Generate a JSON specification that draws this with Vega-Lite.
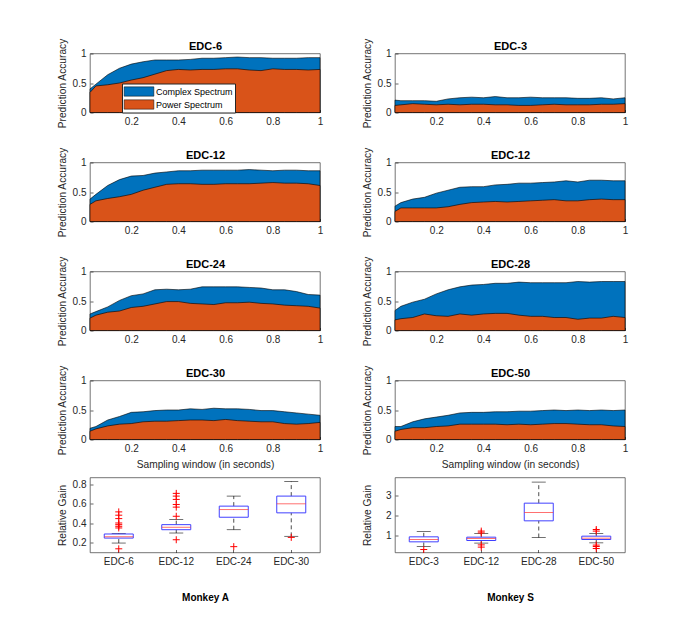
{
"$schema":"https://vega.github.io/schema/vega-lite/v6.json",
"padding":{"left":57,"top":37.5,"right":5,"bottom":5},
"background":"white",
"config":{
 "font":"Liberation Sans",
 "view":{"stroke":"#3a3a3a","strokeWidth":0.7},
 "axis":{"grid":false,"domain":false,"tickSize":-3,"tickColor":"#262626","tickWidth":0.7,"labelFontSize":10,"labelColor":"#262626","labelPadding":7,"titleFontSize":10.2,"titleFontWeight":"normal","titleColor":"#262626","labelFlush":false,"labelOverlap":false},
 "axisY":{"titlePadding":4.5,"minExtent":18,"labelOverlap":false},
 "axisX":{"titlePadding":6}
},
"datasets":{
"acc":[
{"p":"A6","x":0.025,"c":0.40,"w":0.34},{"p":"A6","x":0.05,"c":0.48,"w":0.45},{"p":"A6","x":0.1,"c":0.64,"w":0.47},{"p":"A6","x":0.15,"c":0.75,"w":0.50},{"p":"A6","x":0.2,"c":0.82,"w":0.55},{"p":"A6","x":0.25,"c":0.86,"w":0.59},{"p":"A6","x":0.3,"c":0.89,"w":0.65},{"p":"A6","x":0.35,"c":0.89,"w":0.71},{"p":"A6","x":0.4,"c":0.89,"w":0.73},{"p":"A6","x":0.45,"c":0.90,"w":0.72},{"p":"A6","x":0.5,"c":0.92,"w":0.73},{"p":"A6","x":0.55,"c":0.92,"w":0.73},{"p":"A6","x":0.6,"c":0.93,"w":0.74},{"p":"A6","x":0.65,"c":0.94,"w":0.74},{"p":"A6","x":0.7,"c":0.93,"w":0.72},{"p":"A6","x":0.75,"c":0.93,"w":0.71},{"p":"A6","x":0.8,"c":0.92,"w":0.74},{"p":"A6","x":0.85,"c":0.92,"w":0.73},{"p":"A6","x":0.9,"c":0.92,"w":0.73},{"p":"A6","x":0.95,"c":0.93,"w":0.72},{"p":"A6","x":1.0,"c":0.93,"w":0.73},
{"p":"A12","x":0.025,"c":0.38,"w":0.29},{"p":"A12","x":0.05,"c":0.46,"w":0.35},{"p":"A12","x":0.1,"c":0.61,"w":0.39},{"p":"A12","x":0.15,"c":0.71,"w":0.42},{"p":"A12","x":0.2,"c":0.77,"w":0.46},{"p":"A12","x":0.25,"c":0.78,"w":0.53},{"p":"A12","x":0.3,"c":0.82,"w":0.58},{"p":"A12","x":0.35,"c":0.84,"w":0.63},{"p":"A12","x":0.4,"c":0.86,"w":0.64},{"p":"A12","x":0.45,"c":0.86,"w":0.64},{"p":"A12","x":0.5,"c":0.87,"w":0.63},{"p":"A12","x":0.55,"c":0.87,"w":0.63},{"p":"A12","x":0.6,"c":0.87,"w":0.64},{"p":"A12","x":0.65,"c":0.87,"w":0.64},{"p":"A12","x":0.7,"c":0.88,"w":0.64},{"p":"A12","x":0.75,"c":0.87,"w":0.65},{"p":"A12","x":0.8,"c":0.86,"w":0.66},{"p":"A12","x":0.85,"c":0.87,"w":0.65},{"p":"A12","x":0.9,"c":0.87,"w":0.65},{"p":"A12","x":0.95,"c":0.86,"w":0.64},{"p":"A12","x":1.0,"c":0.86,"w":0.61},
{"p":"A24","x":0.025,"c":0.28,"w":0.21},{"p":"A24","x":0.05,"c":0.32,"w":0.26},{"p":"A24","x":0.1,"c":0.40,"w":0.31},{"p":"A24","x":0.15,"c":0.51,"w":0.33},{"p":"A24","x":0.2,"c":0.59,"w":0.39},{"p":"A24","x":0.25,"c":0.62,"w":0.41},{"p":"A24","x":0.3,"c":0.69,"w":0.45},{"p":"A24","x":0.35,"c":0.70,"w":0.49},{"p":"A24","x":0.4,"c":0.69,"w":0.49},{"p":"A24","x":0.45,"c":0.70,"w":0.46},{"p":"A24","x":0.5,"c":0.74,"w":0.45},{"p":"A24","x":0.55,"c":0.74,"w":0.44},{"p":"A24","x":0.6,"c":0.74,"w":0.47},{"p":"A24","x":0.65,"c":0.74,"w":0.47},{"p":"A24","x":0.7,"c":0.73,"w":0.48},{"p":"A24","x":0.75,"c":0.72,"w":0.46},{"p":"A24","x":0.8,"c":0.69,"w":0.45},{"p":"A24","x":0.85,"c":0.69,"w":0.43},{"p":"A24","x":0.9,"c":0.66,"w":0.42},{"p":"A24","x":0.95,"c":0.61,"w":0.41},{"p":"A24","x":1.0,"c":0.60,"w":0.38},
{"p":"A30","x":0.025,"c":0.19,"w":0.14},{"p":"A30","x":0.05,"c":0.22,"w":0.18},{"p":"A30","x":0.1,"c":0.33,"w":0.23},{"p":"A30","x":0.15,"c":0.39,"w":0.26},{"p":"A30","x":0.2,"c":0.46,"w":0.27},{"p":"A30","x":0.25,"c":0.47,"w":0.30},{"p":"A30","x":0.3,"c":0.49,"w":0.31},{"p":"A30","x":0.35,"c":0.50,"w":0.31},{"p":"A30","x":0.4,"c":0.50,"w":0.32},{"p":"A30","x":0.45,"c":0.52,"w":0.33},{"p":"A30","x":0.5,"c":0.51,"w":0.33},{"p":"A30","x":0.55,"c":0.53,"w":0.32},{"p":"A30","x":0.6,"c":0.52,"w":0.34},{"p":"A30","x":0.65,"c":0.52,"w":0.32},{"p":"A30","x":0.7,"c":0.51,"w":0.31},{"p":"A30","x":0.75,"c":0.49,"w":0.30},{"p":"A30","x":0.8,"c":0.49,"w":0.30},{"p":"A30","x":0.85,"c":0.47,"w":0.27},{"p":"A30","x":0.9,"c":0.45,"w":0.26},{"p":"A30","x":0.95,"c":0.43,"w":0.27},{"p":"A30","x":1.0,"c":0.41,"w":0.29},
{"p":"S3","x":0.025,"c":0.21,"w":0.12},{"p":"S3","x":0.05,"c":0.20,"w":0.13},{"p":"S3","x":0.1,"c":0.20,"w":0.15},{"p":"S3","x":0.15,"c":0.20,"w":0.14},{"p":"S3","x":0.2,"c":0.19,"w":0.13},{"p":"S3","x":0.25,"c":0.23,"w":0.14},{"p":"S3","x":0.3,"c":0.25,"w":0.13},{"p":"S3","x":0.35,"c":0.26,"w":0.14},{"p":"S3","x":0.4,"c":0.25,"w":0.14},{"p":"S3","x":0.45,"c":0.27,"w":0.13},{"p":"S3","x":0.5,"c":0.25,"w":0.13},{"p":"S3","x":0.55,"c":0.25,"w":0.12},{"p":"S3","x":0.6,"c":0.26,"w":0.12},{"p":"S3","x":0.65,"c":0.25,"w":0.13},{"p":"S3","x":0.7,"c":0.25,"w":0.14},{"p":"S3","x":0.75,"c":0.25,"w":0.13},{"p":"S3","x":0.8,"c":0.24,"w":0.13},{"p":"S3","x":0.85,"c":0.24,"w":0.13},{"p":"S3","x":0.9,"c":0.25,"w":0.14},{"p":"S3","x":0.95,"c":0.23,"w":0.14},{"p":"S3","x":1.0,"c":0.25,"w":0.15},
{"p":"S12","x":0.025,"c":0.26,"w":0.17},{"p":"S12","x":0.05,"c":0.32,"w":0.23},{"p":"S12","x":0.1,"c":0.38,"w":0.23},{"p":"S12","x":0.15,"c":0.41,"w":0.23},{"p":"S12","x":0.2,"c":0.48,"w":0.23},{"p":"S12","x":0.25,"c":0.53,"w":0.25},{"p":"S12","x":0.3,"c":0.58,"w":0.29},{"p":"S12","x":0.35,"c":0.59,"w":0.32},{"p":"S12","x":0.4,"c":0.59,"w":0.33},{"p":"S12","x":0.45,"c":0.62,"w":0.34},{"p":"S12","x":0.5,"c":0.63,"w":0.33},{"p":"S12","x":0.55,"c":0.65,"w":0.34},{"p":"S12","x":0.6,"c":0.65,"w":0.35},{"p":"S12","x":0.65,"c":0.66,"w":0.36},{"p":"S12","x":0.7,"c":0.67,"w":0.37},{"p":"S12","x":0.75,"c":0.69,"w":0.35},{"p":"S12","x":0.8,"c":0.67,"w":0.35},{"p":"S12","x":0.85,"c":0.70,"w":0.37},{"p":"S12","x":0.9,"c":0.70,"w":0.38},{"p":"S12","x":0.95,"c":0.69,"w":0.37},{"p":"S12","x":1.0,"c":0.69,"w":0.37},
{"p":"S28","x":0.025,"c":0.34,"w":0.18},{"p":"S28","x":0.05,"c":0.41,"w":0.20},{"p":"S28","x":0.1,"c":0.48,"w":0.22},{"p":"S28","x":0.15,"c":0.53,"w":0.28},{"p":"S28","x":0.2,"c":0.62,"w":0.25},{"p":"S28","x":0.25,"c":0.69,"w":0.24},{"p":"S28","x":0.3,"c":0.74,"w":0.28},{"p":"S28","x":0.35,"c":0.77,"w":0.26},{"p":"S28","x":0.4,"c":0.78,"w":0.28},{"p":"S28","x":0.45,"c":0.80,"w":0.29},{"p":"S28","x":0.5,"c":0.80,"w":0.29},{"p":"S28","x":0.55,"c":0.82,"w":0.26},{"p":"S28","x":0.6,"c":0.81,"w":0.24},{"p":"S28","x":0.65,"c":0.81,"w":0.24},{"p":"S28","x":0.7,"c":0.81,"w":0.22},{"p":"S28","x":0.75,"c":0.81,"w":0.22},{"p":"S28","x":0.8,"c":0.83,"w":0.19},{"p":"S28","x":0.85,"c":0.82,"w":0.21},{"p":"S28","x":0.9,"c":0.83,"w":0.21},{"p":"S28","x":0.95,"c":0.83,"w":0.24},{"p":"S28","x":1.0,"c":0.83,"w":0.22},
{"p":"S50","x":0.025,"c":0.22,"w":0.14},{"p":"S50","x":0.05,"c":0.22,"w":0.17},{"p":"S50","x":0.1,"c":0.30,"w":0.20},{"p":"S50","x":0.15,"c":0.35,"w":0.20},{"p":"S50","x":0.2,"c":0.38,"w":0.22},{"p":"S50","x":0.25,"c":0.41,"w":0.23},{"p":"S50","x":0.3,"c":0.45,"w":0.26},{"p":"S50","x":0.35,"c":0.46,"w":0.26},{"p":"S50","x":0.4,"c":0.46,"w":0.26},{"p":"S50","x":0.45,"c":0.47,"w":0.26},{"p":"S50","x":0.5,"c":0.47,"w":0.25},{"p":"S50","x":0.55,"c":0.48,"w":0.26},{"p":"S50","x":0.6,"c":0.48,"w":0.25},{"p":"S50","x":0.65,"c":0.49,"w":0.26},{"p":"S50","x":0.7,"c":0.50,"w":0.27},{"p":"S50","x":0.75,"c":0.49,"w":0.27},{"p":"S50","x":0.8,"c":0.50,"w":0.26},{"p":"S50","x":0.85,"c":0.49,"w":0.25},{"p":"S50","x":0.9,"c":0.50,"w":0.25},{"p":"S50","x":0.95,"c":0.49,"w":0.23},{"p":"S50","x":1.0,"c":0.50,"w":0.22}
],
"box":[
{"m":"A","cat":"EDC-6","lo":0.197,"q1":0.248,"med":0.262,"q3":0.29,"hi":0.295},
{"m":"A","cat":"EDC-12","lo":0.30,"q1":0.334,"med":0.359,"q3":0.386,"hi":0.438},
{"m":"A","cat":"EDC-24","lo":0.334,"q1":0.462,"med":0.541,"q3":0.576,"hi":0.679},
{"m":"A","cat":"EDC-30","lo":0.266,"q1":0.507,"med":0.60,"q3":0.679,"hi":0.828},
{"m":"S","cat":"EDC-3","lo":0.45,"q1":0.683,"med":0.80,"q3":0.933,"hi":1.2},
{"m":"S","cat":"EDC-12","lo":0.62,"q1":0.75,"med":0.85,"q3":0.917,"hi":1.1},
{"m":"S","cat":"EDC-28","lo":0.9,"q1":1.733,"med":2.15,"q3":2.617,"hi":3.67},
{"m":"S","cat":"EDC-50","lo":0.633,"q1":0.8,"med":0.867,"q3":0.967,"hi":1.1}
],
"out":[
{"m":"A","cat":"EDC-6","v":0.517},{"m":"A","cat":"EDC-6","v":0.483},{"m":"A","cat":"EDC-6","v":0.448},{"m":"A","cat":"EDC-6","v":0.403},{"m":"A","cat":"EDC-6","v":0.386},{"m":"A","cat":"EDC-6","v":0.369},{"m":"A","cat":"EDC-6","v":0.352},{"m":"A","cat":"EDC-6","v":0.138},
{"m":"A","cat":"EDC-12","v":0.707},{"m":"A","cat":"EDC-12","v":0.679},{"m":"A","cat":"EDC-12","v":0.645},{"m":"A","cat":"EDC-12","v":0.593},{"m":"A","cat":"EDC-12","v":0.566},{"m":"A","cat":"EDC-12","v":0.472},{"m":"A","cat":"EDC-12","v":0.231},
{"m":"A","cat":"EDC-24","v":0.16},
{"m":"A","cat":"EDC-30","v":0.255},
{"m":"S","cat":"EDC-3","v":0.3},
{"m":"S","cat":"EDC-12","v":1.22},{"m":"S","cat":"EDC-12","v":1.13},{"m":"S","cat":"EDC-12","v":0.53},{"m":"S","cat":"EDC-12","v":0.42},
{"m":"S","cat":"EDC-50","v":1.3},{"m":"S","cat":"EDC-50","v":1.22},{"m":"S","cat":"EDC-50","v":0.52},{"m":"S","cat":"EDC-50","v":0.45},{"m":"S","cat":"EDC-50","v":0.35}
]
},
"hconcat":[
{"vconcat":[
 {"vconcat":[
  {"width":230,"height":59,"data":{"name":"acc"},"transform":[{"filter":"datum.p==='A6'"}],"resolve":{"axis":{"x":"independent"}},
   "layer":[
    {"mark":{"type":"area","stroke":"#000","strokeWidth":0.6,"opacity":1},"encoding":{
      "x":{"field":"x","type":"quantitative","scale":{"domain":[0.025,1],"nice":false,"zero":false},"axis":{"orient":"bottom","values":[0.2,0.4,0.6,0.8,1],"tickCount":10,"format":"~g","title":null}},
      "y":{"field":"c","type":"quantitative","stack":null,"scale":{"domain":[0,1],"nice":false},"axis":{"values":[0,0.5,1],"tickCount":10,"format":"~g"},"title":"Prediction Accuracy"},
      "color":{"datum":"Complex Spectrum","type":"nominal","scale":{"domain":["Complex Spectrum","Power Spectrum"],"range":["#0072BD","#D95319"]},
       "legend":{"orient":"none","legendX":32,"legendY":30,"title":null,"symbolType":"M-2.7,-0.85H2.7V0.85H-2.7Z","symbolSize":121,"symbolStrokeColor":"#000","symbolStrokeWidth":0.5,"symbolOpacity":1,"labelFontSize":9,"labelColor":"#000","labelOffset":11,"symbolOffset":9,"padding":2,"rowPadding":1,"strokeColor":"#262626","fillColor":"#fff"}}}},
    {"mark":{"type":"area","stroke":"#000","strokeWidth":0.6,"opacity":1},"encoding":{
      "x":{"field":"x","type":"quantitative","axis":{"orient":"top","title":"EDC-6","labels":false,"ticks":false,"domain":false,"titleFontWeight":"bold","titleFontSize":11,"titleColor":"#000","titlePadding":2.5}},
      "y":{"field":"w","type":"quantitative","stack":null,"title":"Prediction Accuracy"},"color":{"datum":"Power Spectrum","type":"nominal"}}}
   ]},
  {"width":230,"height":59,"data":{"name":"acc"},"transform":[{"filter":"datum.p==='A12'"}],"resolve":{"axis":{"x":"independent"}},
   "layer":[
    {"mark":{"type":"area","fill":"#0072BD","stroke":"#000","strokeWidth":0.6},"encoding":{
      "x":{"field":"x","type":"quantitative","scale":{"domain":[0.025,1],"nice":false,"zero":false},"axis":{"orient":"bottom","values":[0.2,0.4,0.6,0.8,1],"tickCount":10,"format":"~g","title":null}},
      "y":{"field":"c","type":"quantitative","stack":null,"scale":{"domain":[0,1],"nice":false},"axis":{"values":[0,0.5,1],"tickCount":10,"format":"~g"},"title":"Prediction Accuracy"}}},
    {"mark":{"type":"area","fill":"#D95319","stroke":"#000","strokeWidth":0.6},"encoding":{
      "x":{"field":"x","type":"quantitative","axis":{"orient":"top","title":"EDC-12","labels":false,"ticks":false,"domain":false,"titleFontWeight":"bold","titleFontSize":11,"titleColor":"#000","titlePadding":2.5}},
      "y":{"field":"w","type":"quantitative","stack":null,"title":"Prediction Accuracy"}}}
   ]},
  {"width":230,"height":59,"data":{"name":"acc"},"transform":[{"filter":"datum.p==='A24'"}],"resolve":{"axis":{"x":"independent"}},
   "layer":[
    {"mark":{"type":"area","fill":"#0072BD","stroke":"#000","strokeWidth":0.6},"encoding":{
      "x":{"field":"x","type":"quantitative","scale":{"domain":[0.025,1],"nice":false,"zero":false},"axis":{"orient":"bottom","values":[0.2,0.4,0.6,0.8,1],"tickCount":10,"format":"~g","title":null}},
      "y":{"field":"c","type":"quantitative","stack":null,"scale":{"domain":[0,1],"nice":false},"axis":{"values":[0,0.5,1],"tickCount":10,"format":"~g"},"title":"Prediction Accuracy"}}},
    {"mark":{"type":"area","fill":"#D95319","stroke":"#000","strokeWidth":0.6},"encoding":{
      "x":{"field":"x","type":"quantitative","axis":{"orient":"top","title":"EDC-24","labels":false,"ticks":false,"domain":false,"titleFontWeight":"bold","titleFontSize":11,"titleColor":"#000","titlePadding":2.5}},
      "y":{"field":"w","type":"quantitative","stack":null,"title":"Prediction Accuracy"}}}
   ]},
  {"width":230,"height":59,"data":{"name":"acc"},"transform":[{"filter":"datum.p==='A30'"}],"resolve":{"axis":{"x":"independent"}},
   "layer":[
    {"mark":{"type":"area","fill":"#0072BD","stroke":"#000","strokeWidth":0.6},"encoding":{
      "x":{"field":"x","type":"quantitative","scale":{"domain":[0.025,1],"nice":false,"zero":false},"axis":{"orient":"bottom","values":[0.2,0.4,0.6,0.8,1],"tickCount":10,"format":"~g","title":"Sampling window (in seconds)"}},
      "y":{"field":"c","type":"quantitative","stack":null,"scale":{"domain":[0,1],"nice":false},"axis":{"values":[0,0.5,1],"tickCount":10,"format":"~g"},"title":"Prediction Accuracy"}}},
    {"mark":{"type":"area","fill":"#D95319","stroke":"#000","strokeWidth":0.6},"encoding":{
      "x":{"field":"x","type":"quantitative","axis":{"orient":"top","title":"EDC-30","labels":false,"ticks":false,"domain":false,"titleFontWeight":"bold","titleFontSize":11,"titleColor":"#000","titlePadding":2.5}},
      "y":{"field":"w","type":"quantitative","stack":null,"title":"Prediction Accuracy"}}}
   ]}
 ],"spacing":18,"resolve":{"scale":{"color":"independent"}}},
 {"vconcat":[
  {"width":230,"height":75,"data":{"name":"box"},"transform":[{"filter":"datum.m==='A'"}],
   "encoding":{"x":{"field":"cat","type":"nominal","sort":null,"scale":{"domain":["EDC-6","EDC-12","EDC-24","EDC-30"],"paddingInner":0,"paddingOuter":0},"axis":{"labelAngle":0,"title":"Monkey A","titleFontWeight":"bold","titleColor":"#000","titleFontSize":10,"titlePadding":26}}},
   "layer":[
    {"mark":{"type":"rule","color":"#000","strokeWidth":0.7,"strokeDash":[4,3]},"encoding":{"y":{"field":"lo","type":"quantitative","scale":{"domain":[0.1,0.87],"nice":false,"zero":false},"axis":{"values":[0.2,0.4,0.6,0.8],"tickCount":10,"format":"~g"},"title":"Relative Gain"},"y2":{"field":"q1"}}},
    {"mark":{"type":"rule","color":"#000","strokeWidth":0.7,"strokeDash":[4,3]},"encoding":{"y":{"field":"q3","type":"quantitative","title":"Relative Gain"},"y2":{"field":"hi"}}},
    {"mark":{"type":"tick","color":"#000","size":14,"thickness":0.8},"encoding":{"y":{"field":"lo","type":"quantitative","title":"Relative Gain"}}},
    {"mark":{"type":"tick","color":"#000","size":14,"thickness":0.8},"encoding":{"y":{"field":"hi","type":"quantitative","title":"Relative Gain"}}},
    {"mark":{"type":"bar","size":29,"fillOpacity":0,"stroke":"#4040ff","strokeWidth":1},"encoding":{"y":{"field":"q1","type":"quantitative","title":"Relative Gain"},"y2":{"field":"q3"}}},
    {"mark":{"type":"tick","color":"#ff3333","size":29,"thickness":1},"encoding":{"y":{"field":"med","type":"quantitative","title":"Relative Gain"}}},
    {"data":{"name":"out"},"transform":[{"filter":"datum.m==='A'"}],"mark":{"type":"point","shape":"M-1,0H1M0,-1V1","size":49,"filled":false,"color":"#ff0000","strokeWidth":1,"opacity":1},"encoding":{"y":{"field":"v","type":"quantitative","title":"Relative Gain"}}}
   ]}
 ]}
],"spacing":6,"resolve":{"scale":{"color":"independent"}}},
{"vconcat":[
 {"vconcat":[
  {"width":230,"height":59,"data":{"name":"acc"},"transform":[{"filter":"datum.p==='S3'"}],"resolve":{"axis":{"x":"independent"}},
   "layer":[
    {"mark":{"type":"area","fill":"#0072BD","stroke":"#000","strokeWidth":0.6},"encoding":{
      "x":{"field":"x","type":"quantitative","scale":{"domain":[0.025,1],"nice":false,"zero":false},"axis":{"orient":"bottom","values":[0.2,0.4,0.6,0.8,1],"tickCount":10,"format":"~g","title":null}},
      "y":{"field":"c","type":"quantitative","stack":null,"scale":{"domain":[0,1],"nice":false},"axis":{"values":[0,0.5,1],"tickCount":10,"format":"~g"},"title":"Prediction Accuracy"}}},
    {"mark":{"type":"area","fill":"#D95319","stroke":"#000","strokeWidth":0.6},"encoding":{
      "x":{"field":"x","type":"quantitative","axis":{"orient":"top","title":"EDC-3","labels":false,"ticks":false,"domain":false,"titleFontWeight":"bold","titleFontSize":11,"titleColor":"#000","titlePadding":2.5}},
      "y":{"field":"w","type":"quantitative","stack":null,"title":"Prediction Accuracy"}}}
   ]},
  {"width":230,"height":59,"data":{"name":"acc"},"transform":[{"filter":"datum.p==='S12'"}],"resolve":{"axis":{"x":"independent"}},
   "layer":[
    {"mark":{"type":"area","fill":"#0072BD","stroke":"#000","strokeWidth":0.6},"encoding":{
      "x":{"field":"x","type":"quantitative","scale":{"domain":[0.025,1],"nice":false,"zero":false},"axis":{"orient":"bottom","values":[0.2,0.4,0.6,0.8,1],"tickCount":10,"format":"~g","title":null}},
      "y":{"field":"c","type":"quantitative","stack":null,"scale":{"domain":[0,1],"nice":false},"axis":{"values":[0,0.5,1],"tickCount":10,"format":"~g"},"title":"Prediction Accuracy"}}},
    {"mark":{"type":"area","fill":"#D95319","stroke":"#000","strokeWidth":0.6},"encoding":{
      "x":{"field":"x","type":"quantitative","axis":{"orient":"top","title":"EDC-12","labels":false,"ticks":false,"domain":false,"titleFontWeight":"bold","titleFontSize":11,"titleColor":"#000","titlePadding":2.5}},
      "y":{"field":"w","type":"quantitative","stack":null,"title":"Prediction Accuracy"}}}
   ]},
  {"width":230,"height":59,"data":{"name":"acc"},"transform":[{"filter":"datum.p==='S28'"}],"resolve":{"axis":{"x":"independent"}},
   "layer":[
    {"mark":{"type":"area","fill":"#0072BD","stroke":"#000","strokeWidth":0.6},"encoding":{
      "x":{"field":"x","type":"quantitative","scale":{"domain":[0.025,1],"nice":false,"zero":false},"axis":{"orient":"bottom","values":[0.2,0.4,0.6,0.8,1],"tickCount":10,"format":"~g","title":null}},
      "y":{"field":"c","type":"quantitative","stack":null,"scale":{"domain":[0,1],"nice":false},"axis":{"values":[0,0.5,1],"tickCount":10,"format":"~g"},"title":"Prediction Accuracy"}}},
    {"mark":{"type":"area","fill":"#D95319","stroke":"#000","strokeWidth":0.6},"encoding":{
      "x":{"field":"x","type":"quantitative","axis":{"orient":"top","title":"EDC-28","labels":false,"ticks":false,"domain":false,"titleFontWeight":"bold","titleFontSize":11,"titleColor":"#000","titlePadding":2.5}},
      "y":{"field":"w","type":"quantitative","stack":null,"title":"Prediction Accuracy"}}}
   ]},
  {"width":230,"height":59,"data":{"name":"acc"},"transform":[{"filter":"datum.p==='S50'"}],"resolve":{"axis":{"x":"independent"}},
   "layer":[
    {"mark":{"type":"area","fill":"#0072BD","stroke":"#000","strokeWidth":0.6},"encoding":{
      "x":{"field":"x","type":"quantitative","scale":{"domain":[0.025,1],"nice":false,"zero":false},"axis":{"orient":"bottom","values":[0.2,0.4,0.6,0.8,1],"tickCount":10,"format":"~g","title":"Sampling window (in seconds)"}},
      "y":{"field":"c","type":"quantitative","stack":null,"scale":{"domain":[0,1],"nice":false},"axis":{"values":[0,0.5,1],"tickCount":10,"format":"~g"},"title":"Prediction Accuracy"}}},
    {"mark":{"type":"area","fill":"#D95319","stroke":"#000","strokeWidth":0.6},"encoding":{
      "x":{"field":"x","type":"quantitative","axis":{"orient":"top","title":"EDC-50","labels":false,"ticks":false,"domain":false,"titleFontWeight":"bold","titleFontSize":11,"titleColor":"#000","titlePadding":2.5}},
      "y":{"field":"w","type":"quantitative","stack":null,"title":"Prediction Accuracy"}}}
   ]}
 ],"spacing":18},
 {"vconcat":[
  {"width":230,"height":75,"data":{"name":"box"},"transform":[{"filter":"datum.m==='S'"}],
   "encoding":{"x":{"field":"cat","type":"nominal","sort":null,"scale":{"domain":["EDC-3","EDC-12","EDC-28","EDC-50"],"paddingInner":0,"paddingOuter":0},"axis":{"labelAngle":0,"title":"Monkey S","titleFontWeight":"bold","titleColor":"#000","titleFontSize":10,"titlePadding":26}}},
   "layer":[
    {"mark":{"type":"rule","color":"#000","strokeWidth":0.7,"strokeDash":[4,3]},"encoding":{"y":{"field":"lo","type":"quantitative","scale":{"domain":[0.15,3.9],"nice":false,"zero":false},"axis":{"values":[1,2,3],"tickCount":10,"format":"~g"},"title":"Relative Gain"},"y2":{"field":"q1"}}},
    {"mark":{"type":"rule","color":"#000","strokeWidth":0.7,"strokeDash":[4,3]},"encoding":{"y":{"field":"q3","type":"quantitative","title":"Relative Gain"},"y2":{"field":"hi"}}},
    {"mark":{"type":"tick","color":"#000","size":14,"thickness":0.8},"encoding":{"y":{"field":"lo","type":"quantitative","title":"Relative Gain"}}},
    {"mark":{"type":"tick","color":"#000","size":14,"thickness":0.8},"encoding":{"y":{"field":"hi","type":"quantitative","title":"Relative Gain"}}},
    {"mark":{"type":"bar","size":29,"fillOpacity":0,"stroke":"#4040ff","strokeWidth":1},"encoding":{"y":{"field":"q1","type":"quantitative","title":"Relative Gain"},"y2":{"field":"q3"}}},
    {"mark":{"type":"tick","color":"#ff3333","size":29,"thickness":1},"encoding":{"y":{"field":"med","type":"quantitative","title":"Relative Gain"}}},
    {"data":{"name":"out"},"transform":[{"filter":"datum.m==='S'"}],"mark":{"type":"point","shape":"M-1,0H1M0,-1V1","size":49,"filled":false,"color":"#ff0000","strokeWidth":1,"opacity":1},"encoding":{"y":{"field":"v","type":"quantitative","title":"Relative Gain"}}}
   ]}
 ]}
],"spacing":6}
],
"spacing":38,
"resolve":{"scale":{"color":"independent"}}
}
